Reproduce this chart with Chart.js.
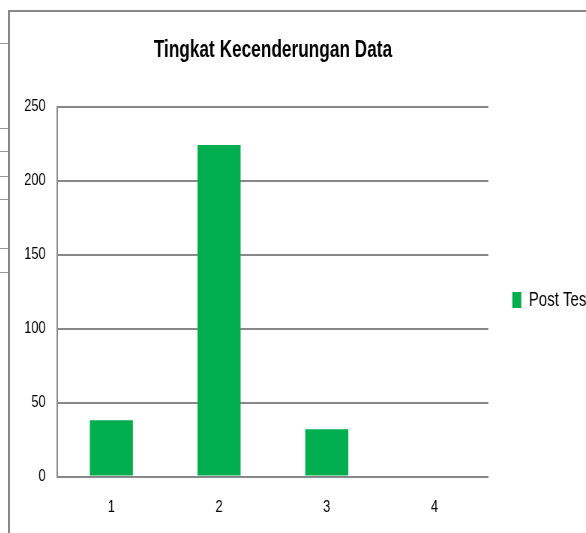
<!DOCTYPE html>
<html>
<head>
<meta charset="utf-8">
<script src="https://cdn.jsdelivr.net/npm/chart.js@4.4.1/dist/chart.umd.min.js"></script>
<style>
  html, body { margin: 0; padding: 0; background: #fff; overflow: hidden; width: 586px; height: 533px; }
  #frame { position: absolute; left: 8px; top: 10px; width: 620px; height: 530px; border-top: 2px solid #888; border-left: 2px solid #888; overflow: hidden; }
  #myChart { display: block; }
  .stub { position: absolute; left: 0; width: 9px; height: 1px; background: #999; }
</style>
</head>
<body>
<div class="stub" style="top:43px"></div>
<div class="stub" style="top:128px"></div>
<div class="stub" style="top:151px"></div>
<div class="stub" style="top:176px"></div>
<div class="stub" style="top:199px"></div>
<div class="stub" style="top:248px"></div>
<div class="stub" style="top:272px"></div>
<!-- canvas is drawn wide and squeezed horizontally, like the original screenshot -->
<div id="frame"><canvas id="myChart" width="784" height="530" style="width:588px;height:530px"></canvas></div>
<script>
const categories = ['1', '2', '3', '4'];
const postTest = [38, 224, 32, 0];
const yTicks = [0, 50, 100, 150, 200, 250];
const seriesName = 'Post Test';
const chartTitle = 'Tingkat Kecenderungan Data';

const fontFamily = "'Liberation Sans', Arial, sans-serif";

const ctx = document.getElementById('myChart').getContext('2d');
const myChart = new Chart(ctx, {
  type: 'bar',
  data: {
    labels: categories,
    datasets: [
      {
        label: seriesName,
        data: postTest,
        backgroundColor: '#00AE4F',
        borderWidth: 0,
        barPercentage: 0.8,
        categoryPercentage: 0.5
      }
    ]
  },
  options: {
    responsive: false,
    animation: false,
    layout: {
      padding: { left: 3, right: 0, top: 0, bottom: 3 }
    },
    scales: {
      x: {
        grid: { display: false, drawTicks: false },
        border: { display: true, color: '#888', width: 2 },
        ticks: { color: '#000', font: { family: fontFamily, size: 17 }, padding: 21 }
      },
      y: {
        min: yTicks[0],
        max: yTicks[yTicks.length - 1],
        afterBuildTicks: (scale) => { scale.ticks = yTicks.map(v => ({ value: v })); },
        ticks: { color: '#000', font: { family: fontFamily, size: 17 }, padding: 16 },
        grid: { color: '#888', lineWidth: 2, drawTicks: false },
        border: { display: true, color: '#888', width: 2 }
      }
    },
    plugins: {
      title: {
        display: true,
        fullSize: false,
        text: chartTitle,
        color: '#000',
        font: { family: fontFamily, size: 23, weight: 'bold' },
        padding: { top: 25, bottom: 42 }
      },
      legend: {
        position: 'right',
        // empty legend title only pushes the key down a little
        title: { display: true, text: '', font: { size: 10 }, padding: { top: 0, bottom: 37 } },
        labels: {
          color: '#000',
          boxWidth: 12,
          boxHeight: 16,
          padding: 32,
          font: { family: fontFamily, size: 20 }
        }
      },
      tooltip: { enabled: false }
    }
  }
});
</script>
</body>
</html>
